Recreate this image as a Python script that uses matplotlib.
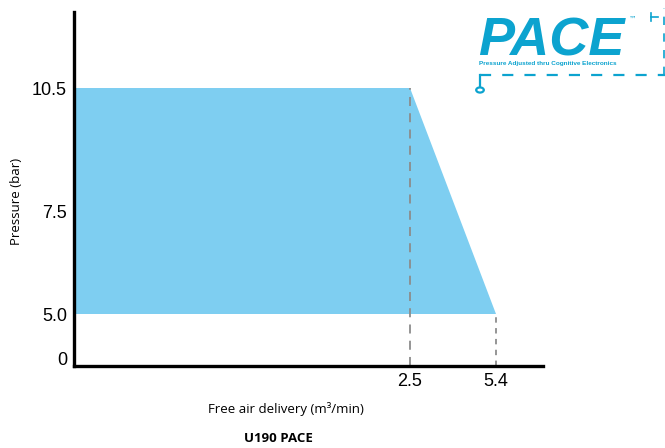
import numpy as np
import matplotlib.pyplot as plt
from matplotlib.lines import Line2D
from matplotlib.patches import Circle

# performance envelope of the compressor
flow = [0, 2.5, 5.4]          # free air delivery, m3/min
p_high = 10.5                 # bar
p_low = 5.0                   # bar
y_ticks = [0, 5.0, 7.5, 10.5]
y_labels = ['0', '5.0', '7.5', '10.5']
x_ticks = [2.5, 5.4]
x_labels = ['2.5', '5.4']

fill_col = '#7ecef1'
logo_col = '#0ca3cf'

W, H = 665, 448
fig = plt.figure(figsize=(W / 100, H / 100), dpi=100)
ax = fig.add_axes([74 / W, 82 / H, (543 - 74) / W, (436 - 82) / H])

# schematic (non-linear) axes
xd = [-1, 0, 2.5, 5.4, 7.0, 10]
xp = [-134, 0, 336, 422, 469, 650]
yd = [-2, -0.5, 0, 5.0, 12.35, 20]
yp = [-24, 0, 8, 52, 354, 668]
ax.set_xscale('function', functions=(lambda v: np.interp(v, xd, xp),
                                     lambda v: np.interp(v, xp, xd)))
ax.set_yscale('function', functions=(lambda v: np.interp(v, yd, yp),
                                     lambda v: np.interp(v, yp, yd)))
ax.set_xlim(0, 7.0)
ax.set_ylim(-0.5, 12.35)

poly_x = [flow[0], flow[0], flow[1], flow[2]]
poly_y = [p_low, p_high, p_high, p_low]
ax.fill(poly_x, poly_y, color=fill_col, lw=0, zorder=1)

ax.plot([flow[1], flow[1]], [-0.5, p_high], color='#8c8c8c', lw=1.3,
        ls=(0, (5, 4)), zorder=2)
ax.plot([flow[2], flow[2]], [-0.5, p_low], color='#8c8c8c', lw=1.3,
        ls=(0, (3, 3)), zorder=2)

for s in ['top', 'right']:
    ax.spines[s].set_visible(False)
for s in ['left', 'bottom']:
    ax.spines[s].set_linewidth(2.4)
    ax.spines[s].set_color('black')

ax.set_yticks(y_ticks)
ax.set_yticklabels(y_labels, family='Liberation Sans', fontsize=13)
ax.set_xticks(x_ticks)
ax.set_xticklabels(x_labels, family='Liberation Sans', fontsize=13)
ax.tick_params(length=0, pad=5)
ax.minorticks_off()

fig.text(17 / W, 1 - 201 / H, 'Pressure (bar)', rotation=90, ha='center',
         va='center', family='Open Sans', fontsize=9.5)
fig.text(286 / W, 1 - 409 / H, 'Free air delivery (m³/min)', ha='center',
         va='center', family='Open Sans', fontsize=9.5)
fig.text(278 / W, 1 - 438 / H, 'U190 PACE', ha='center', va='center',
         family='Open Sans', fontsize=9.5, weight='bold')

# PACE logo
def fx(x):
    return x / W

def fy(y):
    return 1 - y / H

fig.text(fx(478), fy(56), 'PACE', family='Liberation Sans', fontsize=39,
         weight='bold', style='italic', color=logo_col, ha='left',
         va='baseline')
fig.text(fx(629), fy(19), '™', family='DejaVu Sans', fontsize=5.5,
         color=logo_col, ha='left', va='center')
fig.text(fx(479), fy(64), 'Pressure Adjusted thru Cognitive Electronics',
         family='Liberation Sans', fontsize=4.6, weight='bold',
         color=logo_col, ha='left', va='center')
fig.add_artist(Line2D([fx(480), fx(665)], [fy(75), fy(75)], color=logo_col,
                      lw=1.6, ls=(0, (5, 5))))
fig.add_artist(Line2D([fx(480), fx(480)], [fy(75), fy(86)], color=logo_col,
                      lw=1.6))
fig.add_artist(Line2D([fx(664), fx(664)], [fy(75), fy(8)], color=logo_col,
                      lw=1.2, ls=(0, (5, 5))))
fig.add_artist(Line2D([fx(651), fx(658)], [fy(17), fy(17)], color=logo_col,
                      lw=1.2))
fig.add_artist(Line2D([fx(651), fx(651)], [fy(13), fy(21)], color=logo_col,
                      lw=1.2))
circ = Circle((fx(480), fy(90)), 3.8 / W, transform=fig.transFigure,
              fill=False, ec=logo_col, lw=1.6)
fig.add_artist(circ)

plt.savefig('out.png', dpi=100)
